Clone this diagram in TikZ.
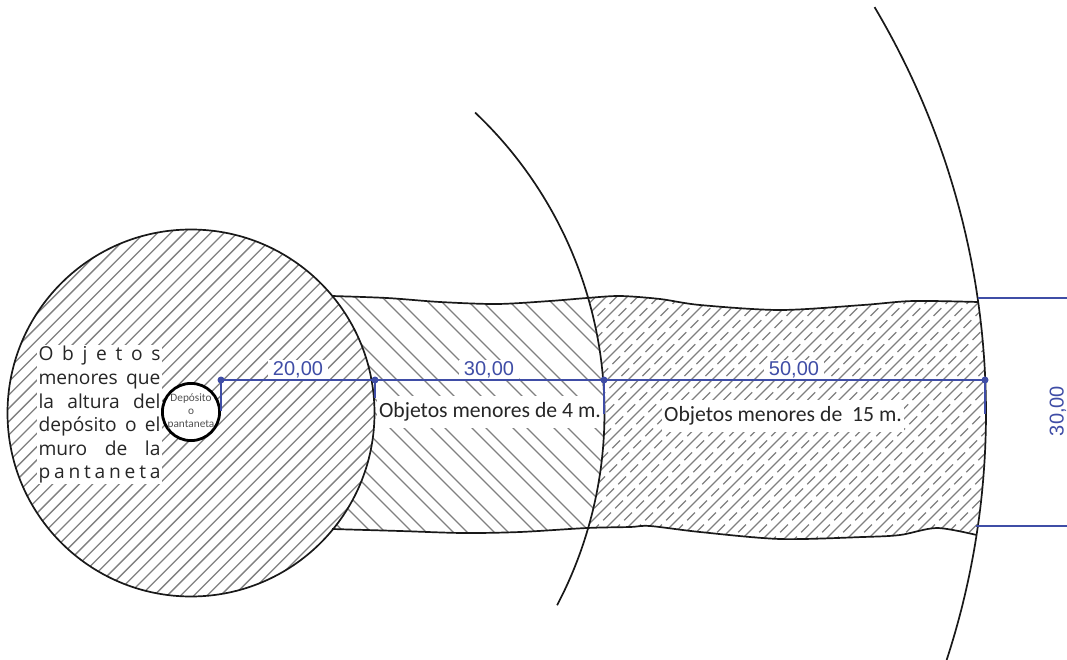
\documentclass[tikz,border=0pt]{standalone}
\usepackage{fontspec}
\setmainfont{Carlito}
\newfontfamily\dimfont{Liberation Sans}
\newfontfamily\leftfont{Open Sans}
\definecolor{dimblue}{HTML}{3F4DA6}
\definecolor{hatchgray}{HTML}{808080}
\definecolor{inktext}{HTML}{262626}
\newcommand{\topcurve}{(332,296) (387,298) (440,302) (497,304) (550,301) (587,298) (620,296) (660,299) (700,305) (780,310) (863,305) (913,301) (978,302)}
\newcommand{\botcurve}{(976.6,535) (937,528) (900,535) (863,537) (780,539) (700,532) (650,526) (630,527) (587,528) (520,532) (463,533) (400,531) (332,529)}
\newcommand{\spreadline}[1]{\leavevmode\hbox to 122pt{#1}\par}
\begin{document}
\begin{tikzpicture}[x=1pt,y=-1pt,
  outline/.style={line width=1.7pt,black!90},
  hatchline/.style={line width=1.3pt,hatchgray},
  dimline/.style={line width=1.6pt,dimblue},
  dimdot/.style={circle,fill=dimblue,inner sep=0pt,minimum size=7pt},
  dimtext/.style={font=\dimfont\fontsize{20}{22}\selectfont,text=dimblue,inner sep=1pt},
  dimback/.style={dimtext,fill=white,inner xsep=5pt,anchor=south},
  lbl/.style={fill=white,text=inktext,inner sep=2pt,minimum height=32pt,font=\fontsize{21.7}{24}\selectfont}]
\useasboundingbox (0,0) rectangle (1067,660);
\fill[white] (0,0) rectangle (1067,660);
\coordinate (C) at (191,413);
% band hatching
\begin{scope}
  \clip plot[smooth] coordinates {\topcurve} -- (1067,302) -- (1067,535) -- plot[smooth] coordinates {\botcurve} -- cycle;
  \begin{scope}
    \clip (C) circle (795pt);
    \foreach \c in {640,661,...,1400} \draw[hatchline] (\c,200) -- ({\c-500},700);
    \foreach \c in {650.5,671.5,...,1413} \draw[hatchline,dash pattern=on 11pt off 6pt] (\c,200) -- ({\c-500},700);
  \end{scope}
  \fill[white] (C) circle (413.5pt);
  \begin{scope}
    \clip (C) circle (413.5pt);
    \foreach \c in {-243,-202,...,330} {
      \draw[hatchline] ({\c+200},200) -- ({\c+700},700);
      \draw[hatchline] ({\c+214},200) -- ({\c+714},700);
    }
  \end{scope}
\end{scope}
% big circle
\fill[white] (C) circle (183.5pt);
\begin{scope}
  \clip (C) circle (183.5pt);
  \foreach \c in {124,137.3,...,880} \draw[hatchline] (\c,200) -- ({\c-500},700);
\end{scope}
% white text panels and labels
\node[fill=white,inner sep=0pt,minimum width=125pt,minimum height=139pt] (leftbox) at (99.5,414) {};
\node[text width=122pt,inner sep=0pt,text=inktext,align=left,font=\leftfont\fontsize{19.2}{23.6}\selectfont] (leftlabel) at (99.5,415)
  {\spreadline{O\hfil b\hfil j\hfil e\hfil t\hfil o\hfil s}\spreadline{menores\hfil que}\spreadline{la\hfil altura\hfil del}\spreadline{depósito\hfil o\hfil el}\spreadline{muro\hfil de\hfil la}\spreadline{p\hfil a\hfil n\hfil t\hfil a\hfil n\hfil e\hfil t\hfil a}};
\node[lbl] (mid) at (490,412) {Objetos menores de 4 m.};
\node[lbl] (right) at (783,416) {Objetos menores de\ \ 15 m.};
% curves
\draw[outline] plot[smooth] coordinates {\topcurve};
\draw[outline] plot[smooth] coordinates {\botcurve};
\draw[outline] (C) circle (183.5pt);
\draw[outline,smooth] plot[domain=-46.6:27.7,samples=80] ({191+413.5*cos(\x)},{413+413.5*sin(\x)});
\draw[outline,smooth] plot[domain=-30.7:18.1,samples=100] ({191+795*cos(\x)},{413+795*sin(\x)});
% small circle
\coordinate (T) at (191,412);
\draw[line width=2.8pt,black,fill=white] (T) circle (28.6pt);
\node[inner sep=0pt,align=center,text=inktext!80,font=\fontsize{11.3}{13}\selectfont] (tank) at (T) {Depósito\\o\\pantaneta};
% dimension labels (white halo first)
\node[dimback] (l20) at (298,379) {20,00};
\node[dimback] (l30) at (489,379) {30,00};
\node[dimback] (l50) at (794,379) {50,00};
% dimensions
\coordinate (d0) at (221,380);
\coordinate (d1) at (375,380);
\coordinate (d2) at (604,380);
\coordinate (d3) at (985,380);
\coordinate (t0) at (221,411);
\coordinate (t1) at (375,398);
\coordinate (t2) at (604,414);
\coordinate (t3) at (985,414);
\coordinate (r0) at (978,298);
\coordinate (r1) at (976,526);
\coordinate (re0) at (1067,298);
\coordinate (re1) at (1067,526);
\draw[dimline] (d0) -- (d3);
\draw[dimline] (d0) -- (t0);
\draw[dimline] (d1) -- (t1);
\draw[dimline] (d2) -- (t2);
\draw[dimline] (d3) -- (t3);
\draw[dimline] (r0) -- (re0);
\draw[dimline] (r1) -- (re1);
\node[dimdot] at (d0) {};
\node[dimdot] at (d1) {};
\node[dimdot] at (d2) {};
\node[dimdot] at (d3) {};
\node[dimtext,rotate=90] (l30v) at (1058,411) {30,00};
\end{tikzpicture}
\end{document}
